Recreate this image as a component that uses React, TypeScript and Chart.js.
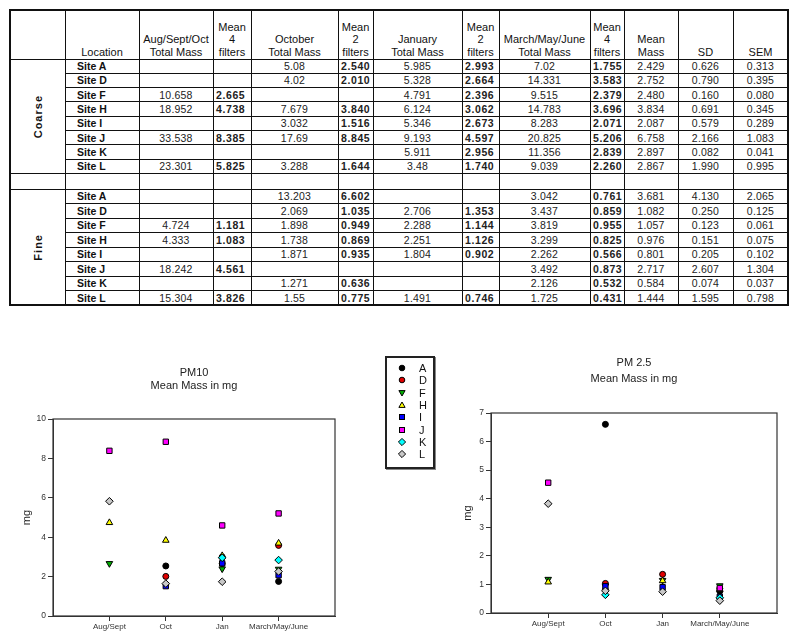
import React, { useEffect, useRef } from "react";
import { Chart, registerables } from "chart.js";

Chart.register(...registerables);

const FONT = '"Liberation Sans", Arial, Helvetica, sans-serif';

// ---------- data ----------
const categories = ["Aug/Sept", "Oct", "Jan", "March/May/June"];
const siteCodes = ["A", "D", "F", "H", "I", "J", "K", "L"];
const groupNames = ["Coarse", "Fine"];

const headerLabels = [
  "",
  "Location",
  "Aug/Sept/Oct\nTotal Mass",
  "Mean\n4\nfilters",
  "October\nTotal Mass",
  "Mean\n2\nfilters",
  "January\nTotal Mass",
  "Mean\n2\nfilters",
  "March/May/June\nTotal Mass",
  "Mean\n4\nfilters",
  "Mean\nMass",
  "SD",
  "SEM",
];

// Coarse (PM10)
const coarseAugTotal = ["", "", "10.658", "18.952", "", "33.538", "", "23.301"];
const coarseAugMean = ["", "", "2.665", "4.738", "", "8.385", "", "5.825"];
const coarseOctTotal = ["5.08", "4.02", "", "7.679", "3.032", "17.69", "", "3.288"];
const coarseOctMean = ["2.540", "2.010", "", "3.840", "1.516", "8.845", "", "1.644"];
const coarseJanTotal = ["5.985", "5.328", "4.791", "6.124", "5.346", "9.193", "5.911", "3.48"];
const coarseJanMean = ["2.993", "2.664", "2.396", "3.062", "2.673", "4.597", "2.956", "1.740"];
const coarseMarTotal = ["7.02", "14.331", "9.515", "14.783", "8.283", "20.825", "11.356", "9.039"];
const coarseMarMean = ["1.755", "3.583", "2.379", "3.696", "2.071", "5.206", "2.839", "2.260"];
const coarseMeanMass = ["2.429", "2.752", "2.480", "3.834", "2.087", "6.758", "2.897", "2.867"];
const coarseSD = ["0.626", "0.790", "0.160", "0.691", "0.579", "2.166", "0.082", "1.990"];
const coarseSEM = ["0.313", "0.395", "0.080", "0.345", "0.289", "1.083", "0.041", "0.995"];

// Fine (PM2.5)
const fineAugTotal = ["", "", "4.724", "4.333", "", "18.242", "", "15.304"];
const fineAugMean = ["", "", "1.181", "1.083", "", "4.561", "", "3.826"];
const fineOctTotal = ["13.203", "2.069", "1.898", "1.738", "1.871", "", "1.271", "1.55"];
const fineOctMean = ["6.602", "1.035", "0.949", "0.869", "0.935", "", "0.636", "0.775"];
const fineJanTotal = ["", "2.706", "2.288", "2.251", "1.804", "", "", "1.491"];
const fineJanMean = ["", "1.353", "1.144", "1.126", "0.902", "", "", "0.746"];
const fineMarTotal = ["3.042", "3.437", "3.819", "3.299", "2.262", "3.492", "2.126", "1.725"];
const fineMarMean = ["0.761", "0.859", "0.955", "0.825", "0.566", "0.873", "0.532", "0.431"];
const fineMeanMass = ["3.681", "1.082", "1.057", "0.976", "0.801", "2.717", "0.584", "1.444"];
const fineSD = ["4.130", "0.250", "0.123", "0.151", "0.205", "2.607", "0.074", "1.595"];
const fineSEM = ["2.065", "0.125", "0.061", "0.075", "0.102", "1.304", "0.037", "0.798"];

const coarseColumns = [
  coarseAugTotal, coarseAugMean, coarseOctTotal, coarseOctMean, coarseJanTotal, coarseJanMean,
  coarseMarTotal, coarseMarMean, coarseMeanMass, coarseSD, coarseSEM,
];
const fineColumns = [
  fineAugTotal, fineAugMean, fineOctTotal, fineOctMean, fineJanTotal, fineJanMean,
  fineMarTotal, fineMarMean, fineMeanMass, fineSD, fineSEM,
];

const pm10Series = [coarseAugMean, coarseOctMean, coarseJanMean, coarseMarMean];
const pm25Series = [fineAugMean, fineOctMean, fineJanMean, fineMarMean];

// ---------- styles ----------
const siteColors = ["#000000", "#e00000", "#00b000", "#ffff00", "#0000ff", "#ff00ff", "#00ffff", "#c8c8c8"];
const siteShapes = ["circle", "circle", "triangle", "triangle", "rect", "rect", "rectRot", "rectRot"];
const siteRotations = [0, 0, 180, 0, 0, 0, 0, 0];
const siteRadii = [3, 3, 3.8, 3.8, 3.8, 3.8, 3.8, 3.8];

const boldCols = [1, 3, 5, 7];
const colEdges = [10, 65, 139, 213, 251, 338, 373, 462, 499, 590, 624, 678, 733, 788];

// ---------- table ----------
function DataTable() {
  const headerTop = 10;
  const headerBottom = 59;
  const coarseH = 14.3;
  const fineH = 14.5;
  const blankBottom = 189;
  const groupTops = [headerBottom, blankBottom];
  const groupRowH = [coarseH, fineH];
  const tableBottom = blankBottom + fineH * 8;
  const L = colEdges[0];
  const R = colEdges[colEdges.length - 1];
  const lines: React.ReactNode[] = [];
  const cells: React.ReactNode[] = [];
  let k = 0;

  colEdges.forEach((x, i) => {
    const outer = i === 0 || i === colEdges.length - 1;
    lines.push(
      <div key={"v" + k++} style={{ position: "absolute", left: x - (outer ? 1 : 0.5), top: headerTop - 1, width: outer ? 2 : 1, height: tableBottom - headerTop + 2, background: "#111" }} />
    );
  });
  const hLine = (y: number, x0: number, thick: boolean) =>
    lines.push(
      <div key={"h" + k++} style={{ position: "absolute", left: x0, top: y - (thick ? 1 : 0.5), width: R - x0, height: thick ? 2 : 1, background: "#111" }} />
    );
  hLine(headerTop, L - 1, true);
  hLine(headerBottom, L, false);
  groupTops.forEach((gt, g) => {
    for (let r = 1; r < 8; r++) hLine(gt + r * groupRowH[g], colEdges[1], false);
  });
  hLine(headerBottom + coarseH * 8, L, false);
  hLine(blankBottom, L, false);
  hLine(tableBottom, L - 1, true);

  headerLabels.forEach((lab, c) => {
    cells.push(
      <div key={"hd" + c} style={{ position: "absolute", left: colEdges[c], top: headerTop, width: colEdges[c + 1] - colEdges[c], height: headerBottom - headerTop, display: "flex", alignItems: "flex-end", justifyContent: "center", textAlign: "center", whiteSpace: "pre-line", lineHeight: "12.5px", fontSize: 11, paddingBottom: 1, boxSizing: "border-box", color: "#111" }}>
        {lab}
      </div>
    );
  });

  [coarseColumns, fineColumns].forEach((cols, g) => {
    const gt = groupTops[g];
    const rh = groupRowH[g];
    cells.push(
      <div key={"grp" + g} style={{ position: "absolute", left: colEdges[0], top: gt, width: colEdges[1] - colEdges[0], height: rh * 8, display: "flex", alignItems: "center", justifyContent: "center" }}>
        <span style={{ writingMode: "vertical-rl", transform: "rotate(180deg)", fontWeight: "bold", fontSize: 11, letterSpacing: 1, color: "#111" }}>{groupNames[g]}</span>
      </div>
    );
    siteCodes.forEach((code, r) => {
      const y = gt + r * rh;
      cells.push(
        <div key={`loc${g}-${r}`} style={{ position: "absolute", left: colEdges[1] + 12, top: y, height: rh, display: "flex", alignItems: "center", fontSize: 10.5, fontWeight: "bold", color: "#111" }}>
          {"Site " + code}
        </div>
      );
      cols.forEach((col, ci) => {
        const c = ci + 2;
        const bold = boldCols.includes(ci);
        cells.push(
          <div key={`c${g}-${r}-${ci}`} style={{ position: "absolute", left: colEdges[c], top: y, width: colEdges[c + 1] - colEdges[c], height: rh, display: "flex", alignItems: "center", justifyContent: bold ? "flex-start" : "center", paddingLeft: bold ? 3 : 0, boxSizing: "border-box", fontSize: 10.5, fontWeight: bold ? "bold" : "normal", letterSpacing: bold ? 0.6 : 0.2, color: "#222" }}>
            {col[r]}
          </div>
        );
      });
    });
  });

  return (
    <div>
      {cells}
      {lines}
    </div>
  );
}

// ---------- charts ----------
const framePlugin = {
  id: "frame",
  beforeDatasetsDraw(chart: any) {
    const { ctx, chartArea } = chart;
    ctx.save();
    ctx.strokeStyle = "#333";
    ctx.lineWidth = 1.2;
    ctx.strokeRect(chartArea.left, chartArea.top, chartArea.right - chartArea.left, chartArea.bottom - chartArea.top);
    ctx.restore();
  },
};

type PanelSpec = {
  titleLines: string[];
  series: string[][];
  yMax: number;
  yStep: number;
  left: number;
  top: number;
  width: number;
  height: number;
  yAxisWidth: number;
  padRight: number;
  padBottom: number;
  titleLineHeight: number;
  titlePadTop: number;
  titlePadBottom: number;
  yTitlePad: number;
};

function ScatterPanel({ spec }: { spec: PanelSpec }) {
  const ref = useRef<HTMLCanvasElement>(null);
  useEffect(() => {
    const datasets = siteCodes.map((code, s) => ({
      label: code,
      data: spec.series
        .map((col, i) => (col[s] ? { x: i + 1, y: parseFloat(col[s]) } : null))
        .filter((p) => p !== null),
      pointStyle: siteShapes[s],
      pointRotation: siteRotations[s],
      pointRadius: siteRadii[s],
      pointBackgroundColor: siteColors[s],
      backgroundColor: siteColors[s],
      pointBorderColor: "#000",
      borderColor: "#000",
      pointBorderWidth: 1,
      showLine: false,
      order: siteCodes.length - s,
    }));
    const chart = new Chart(ref.current as HTMLCanvasElement, {
      type: "scatter",
      data: { datasets } as any,
      options: {
        responsive: false,
        animation: false,
        devicePixelRatio: 1,
        layout: { padding: { left: 0, right: spec.padRight, top: 0, bottom: spec.padBottom } },
        plugins: {
          legend: { display: false },
          tooltip: { enabled: false },
          title: {
            display: true,
            text: spec.titleLines,
            fullSize: false,
            color: "#222",
            font: { family: FONT, size: 11, weight: "normal", lineHeight: spec.titleLineHeight },
            padding: { top: spec.titlePadTop, bottom: spec.titlePadBottom },
          },
        },
        scales: {
          x: {
            type: "linear",
            min: 0,
            max: categories.length + 1,
            afterBuildTicks: (sc: any) => {
              sc.ticks = categories.map((_, i) => ({ value: i + 1 }));
            },
            afterFit: (sc: any) => {
              sc.height = 20;
            },
            ticks: {
              callback: (v: any) => categories[Number(v) - 1] ?? "",
              autoSkip: false,
              maxRotation: 0,
              minRotation: 0,
              font: { family: FONT, size: 8 },
              color: "#333",
              padding: 1,
            },
            grid: { drawOnChartArea: false, tickLength: 5, color: "#333" },
            border: { color: "#333" },
          },
          y: {
            min: 0,
            max: spec.yMax,
            afterFit: (sc: any) => {
              sc.width = spec.yAxisWidth;
            },
            ticks: { stepSize: spec.yStep, font: { family: FONT, size: 8.5 }, color: "#333", padding: 2 },
            grid: { drawOnChartArea: false, tickLength: 5, color: "#333" },
            border: { color: "#333" },
            title: {
              display: true,
              text: "mg",
              font: { family: FONT, size: 11 },
              color: "#222",
              padding: { top: spec.yTitlePad, bottom: 0 },
            },
          },
        },
      } as any,
      plugins: [framePlugin],
    });
    return () => chart.destroy();
  }, []);
  return (
    <canvas
      ref={ref}
      width={spec.width}
      height={spec.height}
      style={{ position: "absolute", left: spec.left, top: spec.top, width: spec.width, height: spec.height }}
    />
  );
}

const pm10Spec: PanelSpec = {
  titleLines: ["PM10", "Mean Mass in mg"],
  series: pm10Series,
  yMax: 10,
  yStep: 2,
  left: 0,
  top: 340,
  width: 388,
  height: 299,
  yAxisWidth: 53,
  padRight: 53,
  padBottom: 3,
  titleLineHeight: 1.2,
  titlePadTop: 26.1,
  titlePadBottom: 26.5,
  yTitlePad: 20.4,
};

const pm25Spec: PanelSpec = {
  titleLines: ["PM 2.5", "Mean Mass in mg"],
  series: pm25Series,
  yMax: 7,
  yStep: 1,
  left: 440,
  top: 340,
  width: 360,
  height: 299,
  yAxisWidth: 51,
  padRight: 23,
  padBottom: 6,
  titleLineHeight: 16 / 11,
  titlePadTop: 15.3,
  titlePadBottom: 25.7,
  yTitlePad: 21.4,
};

// ---------- legend ----------
function Marker({ s }: { s: number }) {
  const fill = siteColors[s];
  const shape = siteShapes[s];
  const c = 5;
  let el: React.ReactNode;
  if (shape === "circle") el = <circle cx={c} cy={c} r={2.8} fill={fill} stroke="#000" strokeWidth={1} />;
  else if (shape === "rect") el = <rect x={c - 2.5} y={c - 2.5} width={5} height={5} fill={fill} stroke="#000" strokeWidth={1} />;
  else if (shape === "rectRot")
    el = <polygon points={`${c},${c - 3.6} ${c + 3.6},${c} ${c},${c + 3.6} ${c - 3.6},${c}`} fill={fill} stroke="#000" strokeWidth={1} />;
  else {
    const r = 3.6;
    const pts = [0, 120, 240].map((a) => {
      const ang = ((a + siteRotations[s] - 90) * Math.PI) / 180;
      return `${c + r * Math.cos(ang)},${c + r * Math.sin(ang) + (siteRotations[s] ? -0.6 : 0.6)}`;
    });
    el = <polygon points={pts.join(" ")} fill={fill} stroke="#000" strokeWidth={1} />;
  }
  return (
    <svg width={10} height={10} style={{ display: "block" }}>
      {el}
    </svg>
  );
}

function Legend() {
  const left = 385;
  const top = 356;
  return (
    <div>
      <div style={{ position: "absolute", left, top, width: 50, height: 113, border: "2px solid #222", boxSizing: "border-box", boxShadow: "1px 1px 0 #888" }} />
      {siteCodes.map((code, s) => {
        const cy = 368 + s * 12.3;
        return (
          <React.Fragment key={code}>
            <div style={{ position: "absolute", left: 397, top: cy - 5 }}>
              <Marker s={s} />
            </div>
            <div style={{ position: "absolute", left: 419, top: cy - 7, height: 14, lineHeight: "14px", fontSize: 11, color: "#111" }}>{code}</div>
          </React.Fragment>
        );
      })}
    </div>
  );
}

export default function App() {
  return (
    <div style={{ position: "absolute", left: 0, top: 0, width: 800, height: 639, overflow: "hidden", background: "#fff", fontFamily: FONT }}>
      <DataTable />
      <ScatterPanel spec={pm10Spec} />
      <ScatterPanel spec={pm25Spec} />
      <Legend />
    </div>
  );
}
